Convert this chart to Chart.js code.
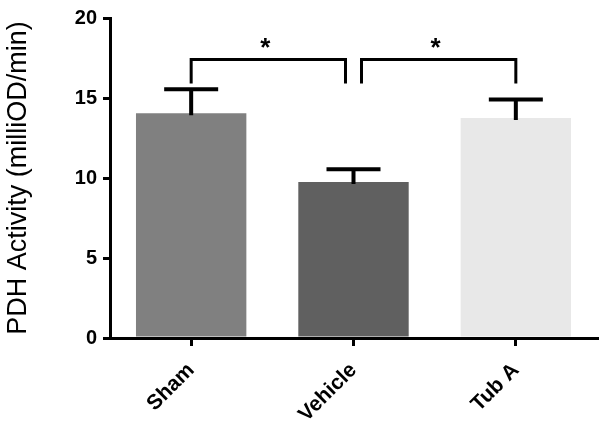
<!DOCTYPE html>
<html>
<head>
<meta charset="utf-8">
<script src="https://cdn.jsdelivr.net/npm/chart.js@4/dist/chart.umd.min.js"></script>
<style>
  html, body { margin: 0; padding: 0; background: #fff; }
  #wrap { width: 604px; height: 430px; }
</style>
</head>
<body>
<div id="wrap"><canvas id="pdhChart"></canvas></div>
<script>
  const categories = ["Sham", "Vehicle", "Tub A"];
  const means      = [14.05, 9.75, 13.75];
  const sems       = [1.5, 0.8, 1.15];
  const barColors  = ["#808080", "#606060", "#e8e8e8"];
  const yTicks     = [0, 5, 10, 15, 20];
  // significance brackets: pair of category indexes, bar height, leg bottom, label
  const brackets = [
    { from: 0, to: 1, top: 17.4, bottom: 15.9, label: "*" },
    { from: 1, to: 2, top: 17.4, bottom: 15.9, label: "*" },
  ];

  const FONT = "'Liberation Sans', Arial, sans-serif";

  // error bars (upper only) and significance brackets
  const annotations = {
    id: "annotations",
    afterDatasetsDraw(chart) {
      const { ctx, scales: { x, y } } = chart;
      ctx.save();
      ctx.strokeStyle = "#000";
      ctx.lineCap = "butt";

      ctx.lineWidth = 4;
      means.forEach((m, i) => {
        const cx = x.getPixelForValue(i);
        const y0 = y.getPixelForValue(m);
        const y1 = y.getPixelForValue(m + sems[i]);
        ctx.beginPath();
        ctx.moveTo(cx, y0 + 2);
        ctx.lineTo(cx, y1);
        ctx.moveTo(cx - 27, y1);
        ctx.lineTo(cx + 27, y1);
        ctx.stroke();
      });

      ctx.lineWidth = 3;
      ctx.fillStyle = "#000";
      ctx.font = "bold 26px " + FONT;
      ctx.textAlign = "center";
      ctx.textBaseline = "middle";
      brackets.forEach((b) => {
        const gap = 8;
        let x0 = x.getPixelForValue(b.from);
        let x1 = x.getPixelForValue(b.to);
        if (b.from === 1) x0 += gap;
        if (b.to === 1) x1 -= gap;
        const yt = y.getPixelForValue(b.top);
        const yb = y.getPixelForValue(b.bottom);
        ctx.beginPath();
        ctx.moveTo(x0, yb);
        ctx.lineTo(x0, yt);
        ctx.lineTo(x1, yt);
        ctx.lineTo(x1, yb);
        ctx.stroke();
        ctx.fillText(b.label, (x0 + x1) / 2 - 3, yt - 11);
      });
      ctx.restore();
    },
  };

  new Chart(document.getElementById("pdhChart"), {
    type: "bar",
    data: {
      labels: categories,
      datasets: [{
        data: means,
        backgroundColor: barColors,
        borderWidth: 0,
        barPercentage: 1,
        categoryPercentage: 0.68,
      }],
    },
    options: {
      responsive: true,
      maintainAspectRatio: false,
      animation: false,
      layout: { padding: { top: 15, right: 7, left: 0, bottom: 0 } },
      plugins: { legend: { display: false }, tooltip: { enabled: false } },
      scales: {
        x: {
          grid: {
            display: true, drawOnChartArea: false, drawTicks: true,
            offset: false, tickLength: 8, color: "#000", lineWidth: 3,
          },
          border: { color: "#000", width: 3 },
          ticks: {
            color: "#000", minRotation: 45, maxRotation: 45, padding: 12,
            font: { family: FONT, size: 21, weight: "bold" },
          },
          afterFit: (s) => { s.height = 92; },
        },
        y: {
          min: 0, max: 20,
          afterBuildTicks: (s) => { s.ticks = yTicks.map((v) => ({ value: v })); },
          grid: {
            display: true, drawOnChartArea: false, drawTicks: true,
            tickLength: 7, color: "#000", lineWidth: 3,
          },
          border: { color: "#000", width: 3 },
          ticks: {
            color: "#000", padding: 6,
            font: { family: FONT, size: 20, weight: "bold" },
          },
          title: {
            display: true, text: "PDH Activity (milliOD/min)", color: "#000",
            font: { family: FONT, size: 27 }, padding: { top: 2, bottom: 0 },
          },
          afterFit: (s) => { s.width = 110; },
        },
      },
    },
    plugins: [annotations],
  });
</script>
</body>
</html>
